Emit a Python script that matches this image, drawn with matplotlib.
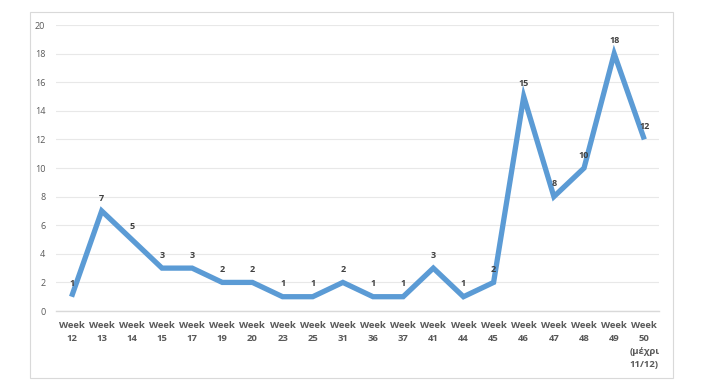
import matplotlib.pyplot as plt
from matplotlib.patches import Rectangle

plt.rcParams['font.family'] = ['Open Sans', 'DejaVu Sans']

# 数据
weeks = ['Week\n12', 'Week\n13', 'Week\n14', 'Week\n15', 'Week\n17', 'Week\n19', 'Week\n20',
         'Week\n23', 'Week\n25', 'Week\n31', 'Week\n36', 'Week\n37', 'Week\n41', 'Week\n44',
         'Week\n45', 'Week\n46', 'Week\n47', 'Week\n48', 'Week\n49', 'Week\n50\n(μέχρι\n11/12)']
cases = [1, 7, 5, 3, 3, 2, 2, 1, 1, 2, 1, 1, 3, 1, 2, 15, 8, 10, 18, 12]

fig = plt.figure(figsize=(7.06, 3.89), dpi=100)
ax = fig.add_axes([0.080, 0.2005, 0.854, 0.735])

x = list(range(len(cases)))
ax.plot(x, cases, color='#5B9BD5', linewidth=3.8, solid_joinstyle='miter', solid_capstyle='butt')

for xi, v in zip(x, cases):
    ax.annotate(str(v), (xi, v), xytext=(0, 6), textcoords='offset points',
                ha='center', va='bottom', fontsize=6.5, fontweight='bold', color='#404040')

ax.set_xlim(-0.5, len(cases) - 0.5)
ax.set_ylim(0, 20)
ax.set_yticks(range(0, 21, 2))
ax.set_xticks(x)
ax.set_xticklabels(weeks, fontsize=6.8, fontweight='bold', color='#595959', va='top',
                   linespacing=1.6)
ax.tick_params(axis='y', labelsize=6.5, colors='#595959', length=0, pad=8)
ax.tick_params(axis='x', length=0, pad=7)
ax.grid(axis='y', color='#E8E8E8', linewidth=0.8)
ax.set_axisbelow(True)
for s in ['top', 'right', 'left']:
    ax.spines[s].set_visible(False)
ax.spines['bottom'].set_color('#D9D9D9')
ax.spines['bottom'].set_linewidth(1.0)

# 外边框
fig.patches.append(Rectangle((30 / 706, 1 - 378 / 389), 643 / 706, 366 / 389,
                             transform=fig.transFigure, fill=False,
                             edgecolor='#D9D9D9', linewidth=0.8))

fig.savefig('out.png', dpi=100)
